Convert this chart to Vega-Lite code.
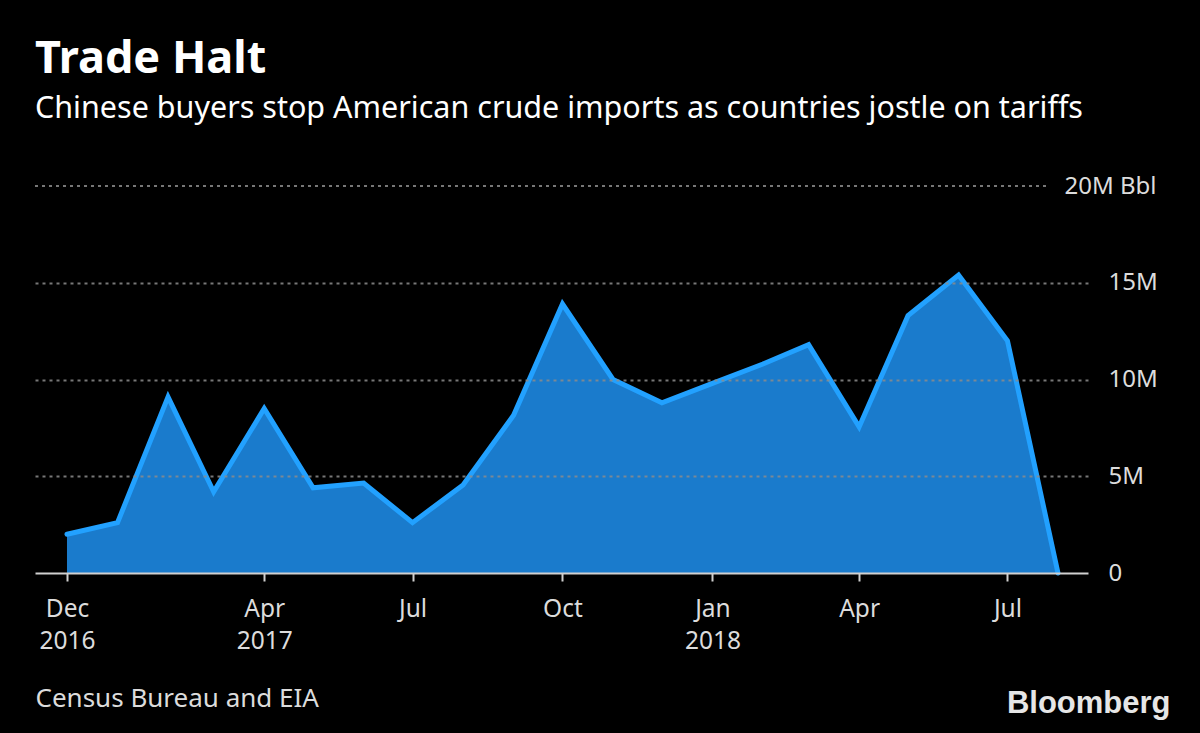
{
  "$schema": "https://vega.github.io/schema/vega-lite/v6.json",
  "width": 1053,
  "height": 387,
  "autosize": {"type": "none"},
  "padding": {"left": 35, "top": 186, "right": 112, "bottom": 160},
  "background": "#000000",
  "title": {
    "text": "Trade Halt",
    "subtitle": "Chinese buyers stop American crude imports as countries jostle on tariffs",
    "anchor": "start",
    "frame": "group",
    "orient": "top",
    "offset": 50,
    "font": "Noto Sans",
    "fontSize": 45,
    "fontWeight": "bold",
    "color": "#ffffff",
    "subtitleFont": "Noto Sans",
    "subtitleFontSize": 30.5,
    "subtitleColor": "#ffffff",
    "subtitlePadding": 12
  },
  "data": {
    "values": [
      {"month": "2016-12-01", "imports": 2.0},
      {"month": "2017-01-01", "imports": 2.6},
      {"month": "2017-02-01", "imports": 9.1},
      {"month": "2017-03-01", "imports": 4.2},
      {"month": "2017-04-01", "imports": 8.5},
      {"month": "2017-05-01", "imports": 4.4},
      {"month": "2017-06-01", "imports": 4.65},
      {"month": "2017-07-01", "imports": 2.6},
      {"month": "2017-08-01", "imports": 4.55},
      {"month": "2017-09-01", "imports": 8.15},
      {"month": "2017-10-01", "imports": 13.9},
      {"month": "2017-11-01", "imports": 10.0},
      {"month": "2017-12-01", "imports": 8.8},
      {"month": "2018-01-01", "imports": 9.8},
      {"month": "2018-02-01", "imports": 10.8},
      {"month": "2018-03-01", "imports": 11.8},
      {"month": "2018-04-01", "imports": 7.55},
      {"month": "2018-05-01", "imports": 13.3},
      {"month": "2018-06-01", "imports": 15.4},
      {"month": "2018-07-01", "imports": 12.0},
      {"month": "2018-08-01", "imports": 0}
    ]
  },
  "layer": [
    {
      "mark": {"type": "area", "color": "#1a7bcc"},
      "encoding": {
        "x": {
          "field": "month",
          "type": "temporal",
          "scale": {
            "type": "utc",
            "domain": [
              {"year": 2016, "month": 11, "date": 11, "hours": 9, "utc": true},
              {"year": 2018, "month": 8, "date": 19, "hours": 10, "utc": true}
            ]
          },
          "axis": {
            "values": [
              {"year": 2016, "month": 12, "date": 1, "utc": true},
              {"year": 2017, "month": 4, "date": 1, "utc": true},
              {"year": 2017, "month": 7, "date": 1, "utc": true},
              {"year": 2017, "month": 10, "date": 1, "utc": true},
              {"year": 2018, "month": 1, "date": 1, "utc": true},
              {"year": 2018, "month": 4, "date": 1, "utc": true},
              {"year": 2018, "month": 7, "date": 1, "utc": true}
            ],
            "labelExpr": "[utcFormat(datum.value, '%b'), (utcFormat(datum.value, '%Y-%m') == '2016-12' || utcFormat(datum.value, '%Y-%m') == '2017-04' || utcFormat(datum.value, '%Y-%m') == '2018-01') ? utcFormat(datum.value, '%Y') : '']",
            "domain": true,
            "domainColor": "#d0d0d0",
            "domainWidth": 2,
            "ticks": true,
            "tickColor": "#d0d0d0",
            "tickSize": 8,
            "tickWidth": 2,
            "grid": false,
            "labelFont": "Noto Sans",
            "labelFontSize": 24.5,
            "labelColor": "#dcdcdc",
            "labelPadding": 16,
            "labelLineHeight": 32,
            "labelAlign": "center",
            "labelBaseline": "top",
            "labelFlush": false,
            "labelOverlap": false,
            "title": "Census Bureau and EIA",
            "titleX": 0,
            "titleY": 133,
            "titleAlign": "left",
            "titleAnchor": "start",
            "titleBaseline": "alphabetic",
            "titleFont": "Noto Sans",
            "titleFontSize": 26,
            "titleFontWeight": "normal",
            "titleColor": "#dcdcdc",
            "zindex": 1
          }
        },
        "y": {
          "field": "imports",
          "type": "quantitative",
          "title": "Bloomberg",
          "scale": {"domain": [0, 20], "nice": false, "zero": true},
          "axis": {
            "orient": "right",
            "values": [0, 5, 10, 15, 20],
            "labelExpr": "datum.value == 0 ? '0' : datum.value == 20 ? '20M Bbl' : datum.value + 'M'",
            "domain": false,
            "ticks": false,
            "grid": true,
            "gridColor": "#8c8c8c",
            "gridDash": [3, 4],
            "gridWidth": 2,
            "gridOpacity": {"condition": {"test": "datum.value == 20 || datum.value == 0", "value": 0}, "value": 0.85},
            "labelAlign": {"condition": {"test": "datum.value == 20", "value": "right"}, "value": "left"},
            "labelPadding": {"condition": {"test": "datum.value == 20", "value": 68}, "value": 20},
            "labelFont": "Noto Sans",
            "labelFontSize": 24,
            "labelColor": "#dcdcdc",
            "labelBaseline": "middle",
            "title": "Bloomberg",
            "titleAngle": 0,
            "titleX": 82,
            "titleY": 526,
            "titleAlign": "right",
            "titleBaseline": "alphabetic",
            "titleFont": "Liberation Sans",
            "titleFontSize": 31,
            "titleFontWeight": "bold",
            "titleColor": "#e6e6e6",
            "zindex": 1
          }
        }
      }
    },
    {
      "mark": {"type": "line", "color": "#22a1ff", "strokeWidth": 5, "strokeCap": "round"},
      "encoding": {
        "x": {"field": "month", "type": "temporal"},
        "y": {"field": "imports", "type": "quantitative", "title": "Bloomberg"}
      }
    },
    {
      "data": {"values": [{"level": 20}]},
      "mark": {"type": "rule", "color": "#8c8c8c", "strokeDash": [3, 4], "strokeWidth": 2, "opacity": 0.85},
      "encoding": {
        "y": {"field": "level", "type": "quantitative", "title": "Bloomberg"},
        "x": {"datum": {"year": 2016, "month": 11, "date": 11, "hours": 9, "utc": true}, "type": "temporal"},
        "x2": {"datum": {"year": 2018, "month": 7, "date": 25, "utc": true}}
      }
    }
  ],
  "config": {"view": {"stroke": null}}
}
